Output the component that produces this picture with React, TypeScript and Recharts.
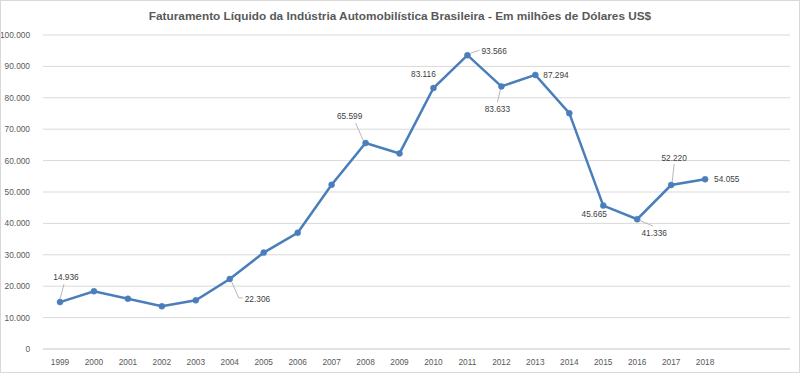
import { LineChart, Line, XAxis, YAxis, CartesianGrid, LabelList } from 'recharts';

const years = [
  '1999', '2000', '2001', '2002', '2003', '2004', '2005', '2006', '2007', '2008',
  '2009', '2010', '2011', '2012', '2013', '2014', '2015', '2016', '2017', '2018',
];
const revenue = [
  14936, 18400, 16000, 13600, 15500, 22306, 30700, 37000, 52300, 65599,
  62300, 83116, 93566, 83633, 87294, 75100, 45665, 41336, 52220, 54055,
];
const labelledYears = ['1999', '2004', '2008', '2010', '2011', '2012', '2013', '2015', '2016', '2017', '2018'];
const yTicks = [0, 10000, 20000, 30000, 40000, 50000, 60000, 70000, 80000, 90000, 100000];
// the source sheet had two empty category slots after 2018
const emptySlots = 2;

const title = 'Faturamento Líquido da Indústria Automobilística Brasileira - Em milhões de Dólares US$';

const data = [...years, ...Array(emptySlots).fill('')].map((year, i) => ({
  slot: i,
  year,
  value: i < revenue.length ? revenue[i] : null,
  label: labelledYears.includes(year) ? revenue[i] : null,
}));

const fmt = (n: number) => String(n).replace(/\B(?=(\d{3})+(?!\d))/g, '.');

const FONT = '"Liberation Sans", Arial, sans-serif';
const BLUE = '#4a7ebb';

type Spot = { dx: number; dy: number; anchor: 'start' | 'middle' | 'end'; leader?: string };

// label offsets from the point, in px; leader is a polyline relative to the point
const spots: Record<string, Spot> = {
  '1999': { dx: 6, dy: -25, anchor: 'middle', leader: '0,-3 4,-18' },
  '2004': { dx: 15, dy: 20, anchor: 'start', leader: '2,3 9,19 13,19' },
  '2008': { dx: -16, dy: -27, anchor: 'middle', leader: '-2,-2 -10,-20' },
  '2010': { dx: -10, dy: -14, anchor: 'middle' },
  '2011': { dx: 14, dy: -4, anchor: 'start', leader: '3,-2 12,-5' },
  '2012': { dx: -4, dy: 23, anchor: 'middle', leader: '-1,3 -4,16' },
  '2013': { dx: 8, dy: 0, anchor: 'start' },
  '2015': { dx: -9, dy: 8, anchor: 'middle' },
  '2016': { dx: 17, dy: 14, anchor: 'middle', leader: '2,1 16,7' },
  '2017': { dx: 3, dy: -27, anchor: 'middle', leader: '1,-3 3,-21' },
  '2018': { dx: 9, dy: 0, anchor: 'start' },
};

function PointLabel(props: any) {
  const { x, y, value, index } = props;
  if (value == null) return null;
  const spot = spots[years[index]];
  if (!spot) return null;
  const leader = spot.leader
    ? spot.leader
        .split(' ')
        .map((p) => {
          const [a, b] = p.split(',').map(Number);
          return `${x + a},${y + b}`;
        })
        .join(' ')
    : null;
  return (
    <g>
      {leader && <polyline points={leader} fill="none" stroke="#a6a6a6" strokeWidth={0.8} />}
      <text
        x={x + spot.dx}
        y={y + spot.dy}
        textAnchor={spot.anchor}
        dominantBaseline="central"
        fontSize={8.3}
        fontFamily={FONT}
        fill="#404040"
      >
        {fmt(value)}
      </text>
    </g>
  );
}

export default function App() {
  return (
    <div
      style={{
        position: 'absolute',
        left: 0,
        top: 0,
        width: 800,
        height: 373,
        boxSizing: 'border-box',
        border: '1px solid #d9d9d9',
        background: '#fff',
      }}
    >
      <div
        style={{
          position: 'absolute',
          left: 0,
          right: 0,
          top: 8,
          textAlign: 'center',
          fontFamily: FONT,
          fontWeight: 700,
          fontSize: 11.8,
          color: '#595959',
        }}
      >
        {title}
      </div>
      <LineChart
        width={798}
        height={371}
        data={data}
        margin={{ top: 34, right: 9, bottom: 3, left: 0 }}
        style={{ position: 'absolute', left: 0, top: 0 }}
      >
        <CartesianGrid vertical={false} stroke="#d9d9d9" />
        <XAxis
          dataKey="slot"
          type="category"
          interval={0}
          height={20}
          padding={{ left: 17, right: 17 }}
          tickFormatter={(i: number) => data[i]?.year ?? ''}
          tick={{ fontSize: 8.3, fontFamily: FONT, fill: '#595959' }}
          tickLine={false}
          axisLine={{ stroke: '#d9d9d9' }}
          tickMargin={4}
        />
        <YAxis
          domain={[0, 100000]}
          ticks={yTicks}
          interval={0}
          width={42}
          tickFormatter={(v: number) => fmt(v)}
          tick={{ fontSize: 8.3, fontFamily: FONT, fill: '#595959' }}
          tickLine={false}
          axisLine={false}
          tickMargin={7}
        />
        <Line
          dataKey="value"
          stroke={BLUE}
          strokeWidth={2.5}
          dot={{ r: 3, fill: BLUE, stroke: BLUE, strokeWidth: 0.5 }}
          activeDot={false}
          isAnimationActive={false}
        >
          <LabelList dataKey="label" content={PointLabel} />
        </Line>
      </LineChart>
    </div>
  );
}
